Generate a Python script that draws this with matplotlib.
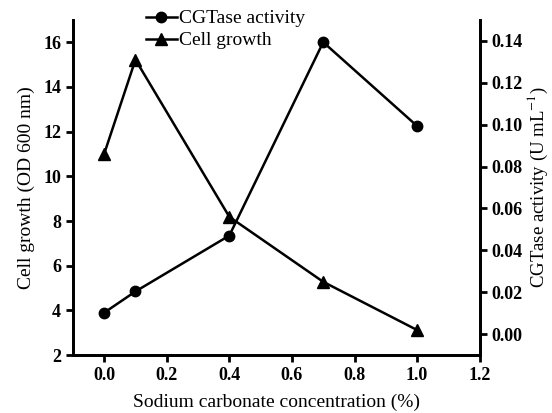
import matplotlib
matplotlib.use("Agg")
import matplotlib.pyplot as plt

# concentrations (%)
conc = [0.0, 0.1, 0.4, 0.7, 1.0]
# circle series (left axis scale)
cgtase = [3.9, 4.85, 7.35, 16.0, 12.25]
# triangle series (right axis scale)
growth = [0.086, 0.131, 0.056, 0.025, 0.002]

xticks = [0.0, 0.2, 0.4, 0.6, 0.8, 1.0, 1.2]
lticks = [2, 4, 6, 8, 10, 12, 14, 16]
rticks = [0.00, 0.02, 0.04, 0.06, 0.08, 0.10, 0.12, 0.14]

plt.rcParams['font.family'] = ['Liberation Serif', 'DejaVu Serif']
plt.rcParams['mathtext.fontset'] = 'stix'

fig = plt.figure(figsize=(5.52, 4.13), dpi=100)
ax = fig.add_axes([0.132, 0.140, 0.737, 0.812])
ax2 = ax.twinx()

l1, = ax.plot(conc, cgtase, color="black", lw=1.8, marker="o", ms=7.5, label="CGTase activity")
l2, = ax2.plot(conc, growth, color="black", lw=1.8, marker="^", ms=8, label="Cell growth")

ax.set_xlim(-0.1, 1.2)
ax.set_ylim(2, 17)
ax2.set_ylim(-0.01, 0.15)
ax.set_xticks(xticks)
ax.set_xticklabels(["%.1f" % v for v in xticks])
ax.set_yticks(lticks)
ax2.set_yticks(rticks)
ax2.set_yticklabels(["%.2f" % v for v in rticks])

for a in (ax, ax2):
    a.spines['top'].set_visible(False)
    for s in ('left', 'right', 'bottom'):
        a.spines[s].set_linewidth(2)
    a.tick_params(width=2, length=5, labelsize=13, direction='out')
    for t in a.get_xticklabels() + a.get_yticklabels():
        t.set_fontweight('bold')

ax.set_xlabel("Sodium carbonate concentration (%)", fontsize=14, labelpad=7)
ax.set_ylabel("Cell growth (OD 600 nm)", fontsize=14, labelpad=6)
ax2.set_ylabel("CGTase activity (U mL$^{-1}$)", fontsize=13.5, labelpad=2)

fig.legend(handles=[l1, l2], loc="upper left", bbox_to_anchor=(0.25, 0.995),
           frameon=False, fontsize=14, handlelength=1.6, handletextpad=0.1,
           labelspacing=0.22, borderaxespad=0)

fig.savefig("out.png", dpi=100)
